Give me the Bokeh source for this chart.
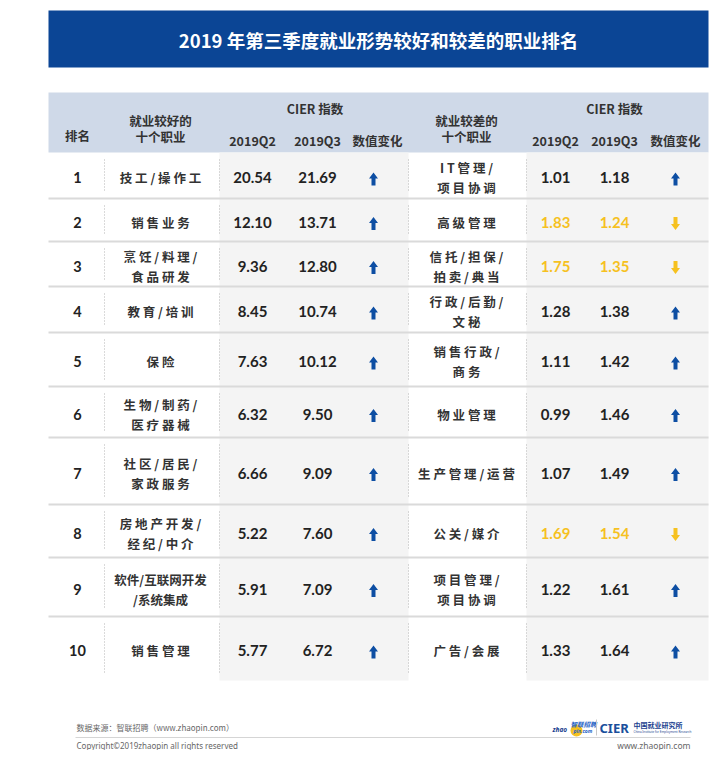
from bokeh.plotting import figure
from bokeh.models import Range1d
from bokeh.core.properties import value
from bokeh.embed import file_html
from bokeh.resources import INLINE

# ---------------- data ----------------
title = "2019 年第三季度就业形势较好和较差的职业排名"
ranks = ["1", "2", "3", "4", "5", "6", "7", "8", "9", "10"]
good_jobs = ["技工/操作工", "销售业务", "烹饪/料理/\n食品研发", "教育/培训", "保险",
             "生物/制药/\n医疗器械", "社区/居民/\n家政服务", "房地产开发/\n经纪/中介",
             "软件/互联网开发\n/系统集成", "销售管理"]
good_q2 = [20.54, 12.10, 9.36, 8.45, 7.63, 6.32, 6.66, 5.22, 5.91, 5.77]
good_q3 = [21.69, 13.71, 12.80, 10.74, 10.12, 9.50, 9.09, 7.60, 7.09, 6.72]
bad_jobs = ["IT管理/\n项目协调", "高级管理", "信托/担保/\n拍卖/典当", "行政/后勤/\n文秘",
            "销售行政/\n商务", "物业管理", "生产管理/运营", "公关/媒介",
            "项目管理/\n项目协调", "广告/会展"]
bad_q2 = [1.01, 1.83, 1.75, 1.28, 1.11, 0.99, 1.07, 1.69, 1.22, 1.33]
bad_q3 = [1.18, 1.24, 1.35, 1.38, 1.42, 1.46, 1.49, 1.54, 1.61, 1.64]
tight_names = {"软件/互联网开发\n/系统集成"}

# ---------------- layout (pixel space) ----------------
W, H = 718, 758
row_edges = [152, 198, 241, 286, 332, 386, 437, 504, 557, 616, 680]
X0, X1 = 48, 708
col_rank, col_gname, col_gq2, col_gq3, col_garr = 77, 160, 252, 317, 373
col_bname, col_bq2, col_bq3, col_barr = 466, 555, 614, 675
vlines = [104, 219, 408, 526]

BLUE_BAND = "#0b4595"
HEAD_BAND = "#cfd9e8"
CELL_GRAY = "#f4f4f4"
SEP = "#dadada"
TXT = "#2b2b2b"
UP_C = "#0d4ea3"
DN_C = "#f6c11f"

CJK = "Noto Sans CJK SC"
NUM = "Lato"

p = figure(width=W - 8, height=H - 8, output_backend="svg", toolbar_location=None,
           x_range=Range1d(0, W - 8), y_range=Range1d(H - 8, 0),
           x_axis_location=None, y_axis_location=None, min_border=0)
p.grid.visible = False
p.outline_line_color = None
p.background_fill_color = "white"
p.border_fill_color = "white"


def txt(xs, ys, texts, size, color=TXT, font=CJK, style="normal", align="center", baseline="middle"):
    p.text(x=xs, y=ys, text=texts, text_font=value(font), text_font_size=f"{size}px",
           text_color=color, text_font_style=style, text_align=align, text_baseline=baseline)


# title band
p.quad(left=[X0], right=[X1], top=[10], bottom=[67], fill_color=BLUE_BAND, line_color=None)
txt([(X0 + X1) / 2], [39], [title], 18.5, color="white", style="bold")

# header band
p.quad(left=[X0], right=[X1], top=[92], bottom=[152], fill_color=HEAD_BAND, line_color=None)
HS = "bold"
txt([col_rank], [135], ["排名"], 12.5, style=HS, color="#333333")
txt([col_gname, col_gname], [120, 136], ["就业较好的", "十个职业"], 12.5, style=HS, color="#333333")
txt([col_bname, col_bname], [120, 136], ["就业较差的", "十个职业"], 12.5, style=HS, color="#333333")
txt([(col_gq2 + col_garr) / 2 + 2, (col_bq2 + col_barr) / 2 - 1], [108, 108], ["CIER 指数", "CIER 指数"],
    12.5, style=HS, color="#333333")
txt([col_gq2, col_gq3, col_bq2, col_bq3], [140] * 4, ["2019Q2", "2019Q3", "2019Q2", "2019Q3"], 12.5,
    style=HS, color="#333333")
txt([col_garr + 4, col_barr], [140, 140], ["数值变化", "数值变化"], 12.5, style=HS, color="#333333")

# gray number-column backgrounds
top, bot = row_edges[0], row_edges[-1]
p.quad(left=[vlines[1], vlines[3]], right=[vlines[2], X1], top=[top, top], bottom=[bot, bot],
       fill_color=CELL_GRAY, line_color=None)

# row separators
seps = row_edges[1:-1]
p.segment(x0=[X0] * len(seps), x1=[X1] * len(seps), y0=seps, y1=seps, line_color=SEP, line_width=2)

# dotted verticals per row
vx, vy0, vy1 = [], [], []
for i in range(len(ranks)):
    for xv in vlines:
        vx.append(xv)
        vy0.append(row_edges[i] + 7)
        vy1.append(row_edges[i + 1] - 7)
p.segment(x0=vx, x1=vx, y0=vy0, y1=vy1, line_color="#b5b5b5", line_width=1, line_dash="1 2")


def spaced(s):
    return s if s in tight_names else "\n".join(" ".join(list(l)) for l in s.split("\n"))


def name_lines(names, cx, ys):
    xs, yy, tt = [], [], []
    for n, y in zip(names, ys):
        lines = spaced(n).split("\n")
        if len(lines) == 1:
            xs.append(cx); yy.append(y); tt.append(lines[0])
        else:
            xs += [cx, cx]; yy += [y - 10, y + 10]; tt += lines
    txt(xs, yy, tt, 12.5, style="bold", color="#333333")


def arrow_patches(cx, ys, ups):
    xs_up, ys_up, xs_dn, ys_dn = [], [], [], []
    for y, up in zip(ys, ups):
        c = y + 1.5
        if up:
            xs_up.append([cx, cx + 4.5, cx + 2, cx + 2, cx - 2, cx - 2, cx - 4.5])
            ys_up.append([c - 6.5, c - 0.5, c - 0.5, c + 6.5, c + 6.5, c - 0.5, c - 0.5])
        else:
            xs_dn.append([cx, cx + 4.5, cx + 2, cx + 2, cx - 2, cx - 2, cx - 4.5])
            ys_dn.append([c + 6.5, c + 0.5, c + 0.5, c - 6.5, c - 6.5, c + 0.5, c + 0.5])
    if xs_up:
        p.patches(xs=xs_up, ys=ys_up, fill_color=UP_C, line_color=None)
    if xs_dn:
        p.patches(xs=xs_dn, ys=ys_dn, fill_color=DN_C, line_color=None)


row_y = [(row_edges[i] + row_edges[i + 1]) / 2 + 2 for i in range(len(ranks))]

# left table
txt([col_rank] * len(ranks), row_y, ranks, 14.5, font=NUM, style="bold", color="#222222")
name_lines(good_jobs, col_gname, row_y)
txt([col_gq2] * len(ranks), row_y, [f"{v:.2f}" for v in good_q2], 15, font=NUM, style="bold", color="#222222")
txt([col_gq3] * len(ranks), row_y, [f"{v:.2f}" for v in good_q3], 15, font=NUM, style="bold", color="#222222")
arrow_patches(col_garr, row_y, [b > a for a, b in zip(good_q2, good_q3)])

# right table
name_lines(bad_jobs, col_bname, row_y)
bad_cols = ["#222222" if b > a else DN_C for a, b in zip(bad_q2, bad_q3)]
txt([col_bq2] * len(ranks), row_y, [f"{v:.2f}" for v in bad_q2], 15, font=NUM, style="bold", color=bad_cols)
txt([col_bq3] * len(ranks), row_y, [f"{v:.2f}" for v in bad_q3], 15, font=NUM, style="bold", color=bad_cols)
arrow_patches(col_barr, row_y, [b > a for a, b in zip(bad_q2, bad_q3)])

# footer
txt([76], [727], ["数据来源：智联招聘（www.zhaopin.com）"], 8, color="#666666", align="left")
p.segment(x0=[75], x1=[690], y0=[737], y1=[737], line_color="#d5d5d5", line_width=1)
txt([76], [745], ["Copyright©2019zhaopin all rights reserved"], 8, color="#666666", align="left", font="Noto Sans")
txt([690], [745], ["www.zhaopin.com"], 8.5, color="#666666", align="right", font="Noto Sans")

# logos (text approximation)
p.circle(x=[576], y=[730], radius=6, fill_color="#f6c11f", line_color=None)
txt([552], [729], ["zhao"], 6.5, color="#1b3f8f", style="bold italic", align="left", font="Noto Sans")
txt([570], [723], ["智联招聘"], 6.5, color="#1f63c6", style="bold italic", align="left")
txt([573], [730.5], ["pin.com"], 5, color="#1f63c6", style="bold italic", align="left", font="Noto Sans")
p.segment(x0=[596], x1=[596], y0=[719], y1=[735], line_color="#c8c8c8", line_width=1)
txt([599], [727], ["CIER"], 13, color="#1b4f9c", style="bold", align="left", font="Noto Sans")
txt([633], [724], ["中国就业研究所"], 7, color="#1b3f8f", style="bold", align="left")
txt([633], [731], ["China Institute for Employment Research"], 3, color="#1b3f8f", align="left", font="Noto Sans")

open("out.html", "w").write(file_html(p, INLINE))
